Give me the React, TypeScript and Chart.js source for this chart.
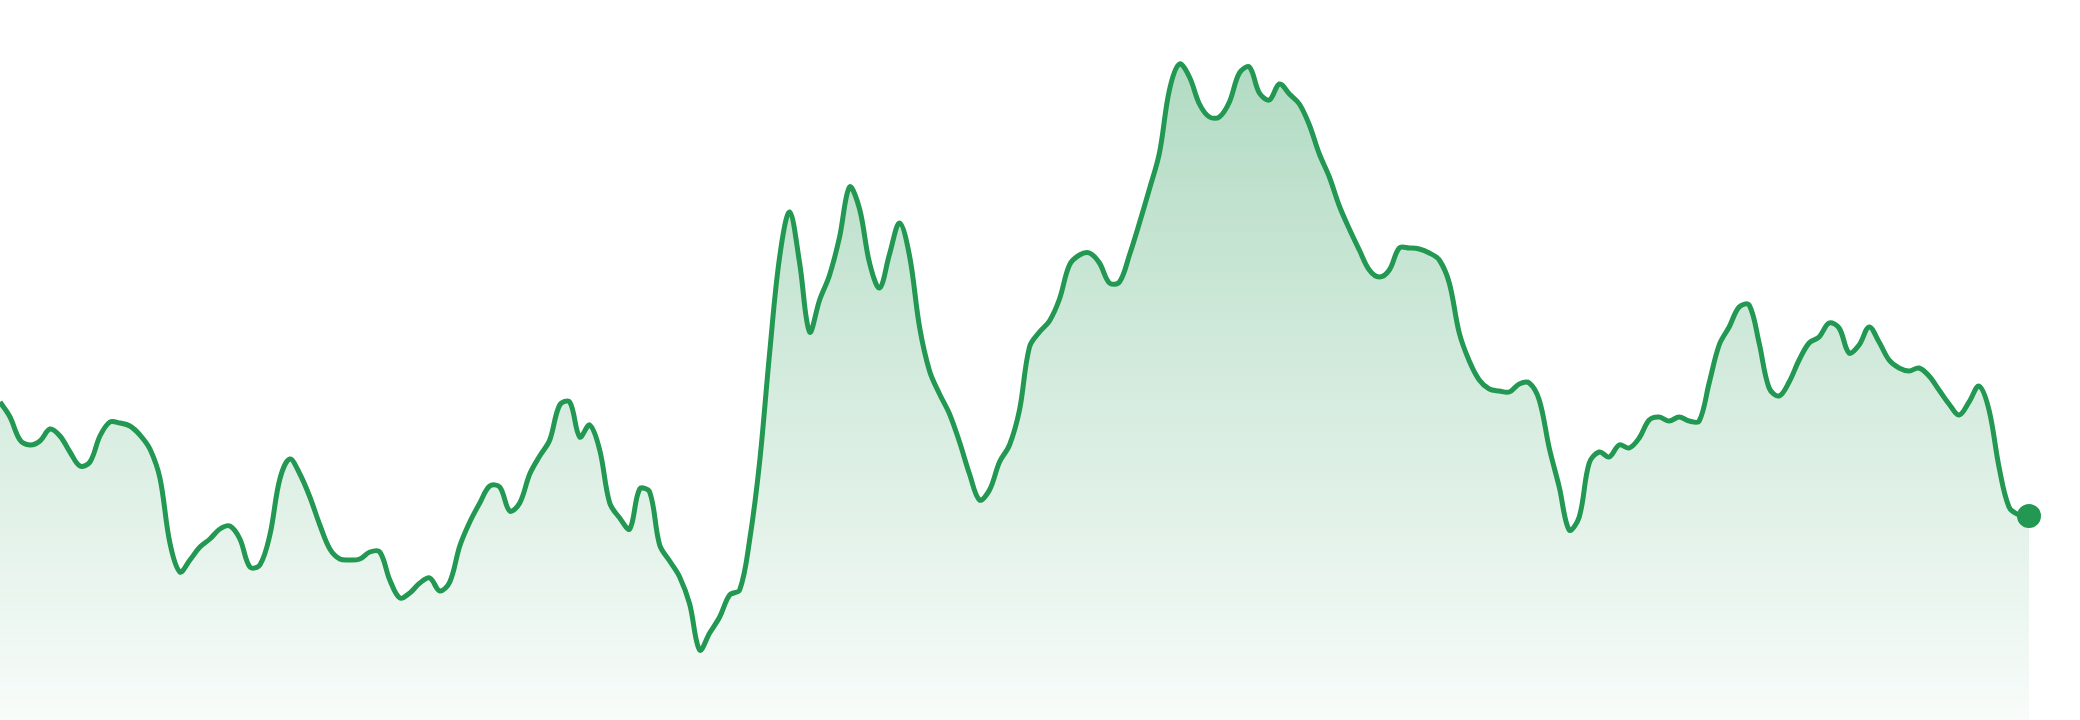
import React, { useEffect, useRef } from "react";
import { Chart, registerables } from "chart.js";

Chart.register(...registerables);

// Series values (chart units: 0 = bottom, 720 = top)
const valuesA = [318, 303, 280, 275, 279, 291, 284, 268, 254, 258, 284, 298, 297, 294, 285, 271, 242, 177, 148, 160, 173, 181, 191, 194, 181, 153, 155, 185, 241, 261, 246, 223, 195, 171, 161];
const valuesB = [160, 161, 168, 168, 140, 122, 127, 137, 142, 129, 138, 174, 198, 217, 234, 233, 209, 217, 246, 264, 280, 315, 318, 283, 295, 270, 217, 202, 191, 231, 228, 175, 159, 143, 116];
const valuesC = [70, 87, 103, 125, 130, 180, 258, 367, 463, 508, 457, 388, 420, 445, 483, 533, 511, 457, 432, 466, 497, 464, 393, 349, 326, 306, 278, 246, 220, 230, 258, 275, 310, 373];
const valuesD = [388, 399, 421, 455, 465, 467, 457, 437, 438, 465, 497, 531, 567, 630, 656, 643, 616, 603, 603, 618, 647, 653, 627, 620, 636, 626, 616, 595, 566, 543, 514, 491, 470, 450];
const valuesE = [443, 450, 472, 472, 471, 467, 460, 437, 387, 359, 340, 331, 329, 328, 336, 337, 320, 272, 233, 190, 203, 257, 268, 263, 275, 272, 282, 300, 303, 299, 303, 299, 299, 337];
const valuesF = [375, 393, 413, 415, 377, 332, 324, 338, 360, 377, 383, 397, 392, 367, 375, 393, 378, 360, 352, 349, 352, 344, 330, 316, 305, 318, 334, 310, 253, 213, 205, 204];

const values = [...valuesA, ...valuesB, ...valuesC, ...valuesD, ...valuesE, ...valuesF];
const labels = values.map((_, i) => `D${i + 1}`);

const LINE = "rgb(34,152,83)";

export default function App() {
  const ref = useRef<HTMLCanvasElement | null>(null);

  useEffect(() => {
    document.body.style.margin = "0";
    const canvas = ref.current;
    if (!canvas) return;
    const last = values.length - 1;
    const chart = new Chart(canvas, {
      type: "line",
      data: {
        labels,
        datasets: [
          {
            data: values,
            borderColor: LINE,
            borderWidth: 5,
            tension: 0.35,
            fill: "start",
            backgroundColor: (ctx: any) => {
              const c = ctx.chart;
              const area = c.chartArea;
              if (!area) return "rgba(34,152,83,0.2)";
              const g = c.ctx.createLinearGradient(0, area.top, 0, area.bottom);
              g.addColorStop(0, "rgba(34,152,83,0.38)");
              g.addColorStop(1, "rgba(34,152,83,0.03)");
              return g;
            },
            pointRadius: (ctx: any) => (ctx.dataIndex === last ? 12 : 0),
            pointHoverRadius: 0,
            pointBackgroundColor: LINE,
            pointBorderWidth: 0,
            clip: false as any,
          },
        ],
      },
      options: {
        animation: false,
        responsive: false,
        devicePixelRatio: 1,
        layout: { autoPadding: false, padding: { left: 0, right: 51, top: 0, bottom: 0 } },
        plugins: { legend: { display: false }, tooltip: { enabled: false } },
        scales: {
          x: { display: false, offset: false },
          y: { display: false, min: 0, max: 720 },
        },
      },
    });
    return () => chart.destroy();
  }, []);

  return (
    <canvas
      ref={ref}
      width={2080}
      height={720}
      style={{ position: "fixed", left: 0, top: 0, width: 2080, height: 720, display: "block", background: "#fff" }}
    />
  );
}
